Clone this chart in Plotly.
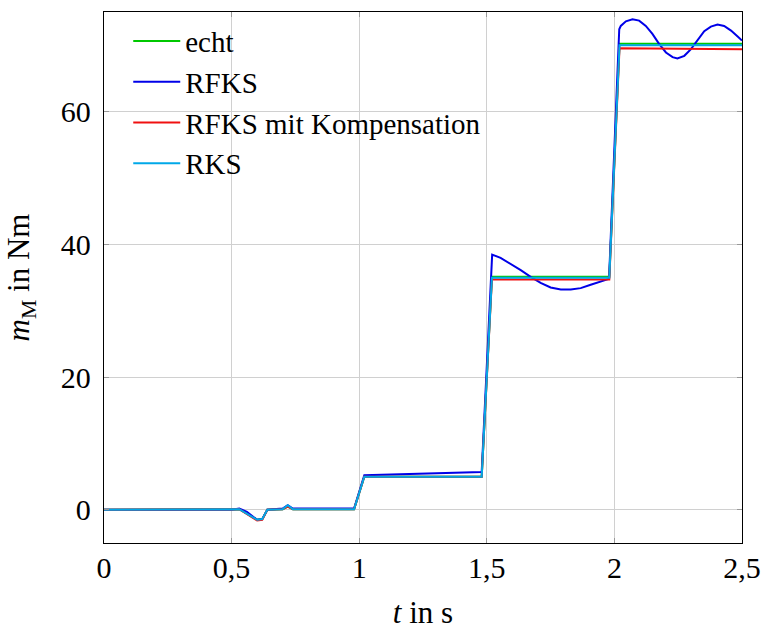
import plotly.graph_objects as go

# --- data ---
t_echt = [0, 0.5, 0.53, 0.6, 0.62, 0.64, 0.7, 0.72, 0.74, 0.98, 1.02, 1.48, 1.52, 1.98, 2.02, 2.5]
m_echt = [0, 0, 0.1, -1.5, -1.4, 0, 0.1, 0.5, 0.1, 0.1, 5.0, 5.0, 35.1, 35.1, 70.2, 70.2]

t_rfks = [0, 0.5, 0.53, 0.56, 0.6, 0.62, 0.64, 0.7, 0.72, 0.74, 0.98, 1.02, 1.48,
          1.521, 1.554, 1.593, 1.633, 1.672, 1.711, 1.750, 1.790, 1.829, 1.868, 1.907,
          1.947, 1.979,
          2.019, 2.025, 2.045, 2.071, 2.097, 2.123, 2.149, 2.175, 2.202, 2.228, 2.247,
          2.274, 2.300, 2.326, 2.352, 2.378, 2.404, 2.430, 2.457, 2.483, 2.5]
m_rfks = [0, 0, 0.2, -0.3, -1.5, -1.4, 0, 0.2, 0.7, 0.2, 0.2, 5.2, 5.7,
          38.45, 37.95, 37.1, 36.1, 35.1, 34.2, 33.5, 33.2, 33.2, 33.4, 33.9,
          34.4, 34.8,
          72.4, 72.9, 73.6, 73.9, 73.7, 72.9, 71.7, 70.2, 68.9, 68.2, 68.0,
          68.4, 69.4, 70.8, 72.1, 72.8, 73.1, 72.9, 72.2, 71.3, 70.7]

t_komp = [0, 0.5, 0.53, 0.6, 0.62, 0.64, 0.7, 0.72, 0.74, 0.98, 1.02, 1.48, 1.52, 1.98, 2.02, 2.5]
m_komp = [0, 0, 0.1, -1.6, -1.5, 0, 0.1, 0.5, 0.1, 0.1, 5.0, 5.0, 34.7, 34.7, 69.55, 69.4]

t_rks = [0, 0.5, 0.53, 0.6, 0.62, 0.64, 0.7, 0.72, 0.74, 0.98, 1.02, 1.48, 1.52, 1.98, 2.02, 2.5]
m_rks = [0, 0, 0.1, -1.5, -1.4, 0, 0.1, 0.7, 0.1, 0.1, 5.0, 5.0, 34.95, 34.95, 70.0, 70.0]

x_ticks = [0, 0.5, 1, 1.5, 2, 2.5]
x_ticktext = ["0", "0,5", "1", "1,5", "2", "2,5"]
y_ticks = [0, 20, 40, 60]
y_ticktext = ["0", "20", "40", "60"]

FONT = "Liberation Serif"

fig = go.Figure()
series = [
    ("echt", t_echt, m_echt, "#00c800"),
    ("RFKS", t_rfks, m_rfks, "#0000e8"),
    ("RFKS mit Kompensation", t_komp, m_komp, "#f01010"),
    ("RKS", t_rks, m_rks, "#00a8e8"),
]
for name, t, m, c in series:
    fig.add_trace(go.Scatter(x=t, y=m, mode="lines", name=name,
                             line=dict(color=c, width=2)))

fig.update_layout(
    width=765, height=632,
    margin=dict(l=104, r=23, t=12, b=89),
    paper_bgcolor="white", plot_bgcolor="white",
    font=dict(family=FONT, size=30, color="black"),
    showlegend=True,
    legend=dict(x=0.038, y=0.993, xanchor="left", yanchor="top",
                bgcolor="rgba(0,0,0,0)", borderwidth=0, itemwidth=47,
                font=dict(family=FONT, size=29), tracegroupgap=0),
)
fig.update_xaxes(
    range=[0, 2.5], tickvals=x_ticks, ticktext=x_ticktext,
    showgrid=True, gridcolor="#d0d0d0", gridwidth=1,
    showline=True, linecolor="black", linewidth=1.3, mirror="ticks",
    ticks="inside", ticklen=5, tickcolor="#999999",
    zeroline=False, ticklabelstandoff=-2, automargin=False,
    title=dict(text="<i>t</i> in s", standoff=18, font=dict(family=FONT, size=31)),
    tickfont=dict(family=FONT, size=30),
)
fig.update_yaxes(
    range=[-5, 75], tickvals=y_ticks, ticktext=y_ticktext,
    showgrid=True, gridcolor="#d0d0d0", gridwidth=1,
    showline=True, linecolor="black", linewidth=1.3, mirror="ticks",
    ticks="inside", ticklen=5, tickcolor="#999999",
    zeroline=False, ticklabelstandoff=6, automargin=False,
    title=dict(text="<i>m</i><sub>M</sub> in Nm", standoff=21, font=dict(family=FONT, size=31)),
    tickfont=dict(family=FONT, size=30),
)

fig.write_html("out.html")
